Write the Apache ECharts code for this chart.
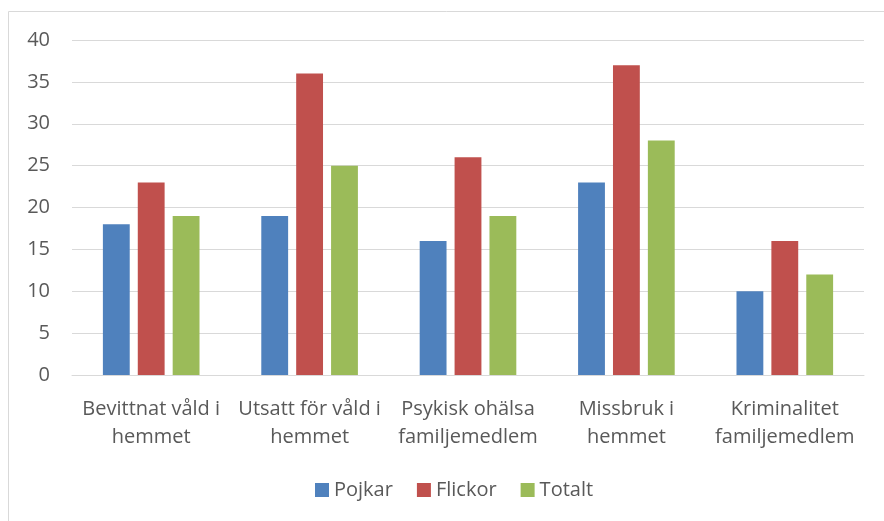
<!DOCTYPE html>
<html>
<head>
<meta charset="utf-8">
<script src="https://cdn.jsdelivr.net/npm/echarts@6/dist/echarts.min.js"></script>
<style>
  html, body { margin: 0; padding: 0; background: #fff; }
  #main { width: 884px; height: 521px; }
</style>
</head>
<body>
<div id="main"></div>
<script>
var categories = ['Bevittnat våld i\nhemmet', 'Utsatt för våld i\nhemmet', 'Psykisk ohälsa\nfamiljemedlem', 'Missbruk i\nhemmet', 'Kriminalitet\nfamiljemedlem']
var pojkar = [18, 19, 16, 23, 10]
var flickor = [23, 36, 26, 37, 16]
var totalt = [19, 25, 19, 28, 12]

var myChart = echarts.init(document.getElementById('main'))
var font = 'Open Sans'

var option = {
  animation: false,
  graphic: [{
    type: 'rect',
    shape: { x: 8.5, y: 11.5, width: 1000, height: 1000 },
    style: { fill: 'none', stroke: '#d9d9d9', lineWidth: 1 }
  }],
  legend: {
    bottom: 16,
    left: 310,
    itemWidth: 14,
    itemHeight: 14,
    itemGap: 24,
    icon: 'rect',
    textStyle: { color: '#595959', fontSize: 20, fontFamily: font },
    data: ['Pojkar', 'Flickor', 'Totalt']
  },
  grid: { left: 72, right: 20, top: 40, bottom: 146 },
  xAxis: {
    type: 'category',
    data: categories,
    axisLine: { lineStyle: { color: '#d9d9d9' } },
    axisTick: { show: false },
    axisLabel: {
      color: '#595959',
      fontSize: 20,
      fontFamily: font,
      lineHeight: 28,
      margin: 20,
      interval: 0
    }
  },
  yAxis: {
    type: 'value',
    min: 0,
    max: 40,
    interval: 5,
    axisLine: { show: false },
    axisTick: { show: false },
    splitLine: { lineStyle: { color: '#d9d9d9' } },
    axisLabel: { color: '#595959', fontSize: 20, fontFamily: font, margin: 22 }
  },
  series: [
    { name: 'Pojkar', type: 'bar', data: pojkar, barGap: '30%', barCategoryGap: '39%', itemStyle: { color: '#4f81bd' } },
    { name: 'Flickor', type: 'bar', data: flickor, itemStyle: { color: '#c0504d' } },
    { name: 'Totalt', type: 'bar', data: totalt, itemStyle: { color: '#9bbb59' } }
  ]
}
myChart.setOption(option)
</script>
</body>
</html>
